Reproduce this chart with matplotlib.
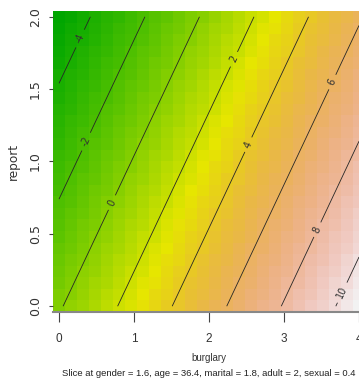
import numpy as np
import matplotlib.pyplot as plt
from matplotlib.colors import ListedColormap, hsv_to_rgb

# grid of the visreg2d slice (26 x 26 cells)
burglary = np.linspace(0, 4, 26)
report = np.linspace(0, 2, 26)

# fitted linear surface
intercept = -0.15
coef_burglary = 2.75
coef_report = -2.5

levels = [-4, -2, 0, 2, 4, 6, 8, 10]
# where R put the contour labels (data coords)
label_pos = [(0.28, 1.85), (0.35, 1.14), (0.69, 0.72), (2.32, 1.71),
             (2.51, 1.12), (3.64, 1.55), (3.44, 0.53), (3.75, 0.10)]

subtitle = 'Slice at gender = 1.6, age = 36.4, marital = 1.8, adult = 2, sexual = 0.4'


def terrain_colors(n):
    # same as R's terrain.colors()
    k = n // 2
    h = np.r_[np.linspace(4/12, 2/12, k), np.linspace(2/12, 0, n - k + 1)[1:]]
    s = np.r_[np.linspace(1, 1, k), np.linspace(1, 0, n - k + 1)[1:]]
    v = np.r_[np.linspace(0.65, 0.9, k), np.linspace(0.9, 0.95, n - k + 1)[1:]]
    return ListedColormap(hsv_to_rgb(np.column_stack([h, s, v])))


if __name__ == '__main__':
    plt.rcParams['contour.negative_linestyle'] = 'solid'

    X, Y = np.meshgrid(burglary, report)
    Z = intercept + coef_burglary * X + coef_report * Y

    W, H = 359, 385
    fig = plt.figure(figsize=(W / 100, H / 100), dpi=100)
    ax = fig.add_axes([53 / W, (H - 312) / H, 312 / W, 301 / H])

    ax.pcolormesh(burglary, report, Z, cmap=terrain_colors(100), shading='nearest',
                  vmin=Z.min(), vmax=Z.max())
    cs = ax.contour(X, Y, Z, levels=levels, colors='#262626', linewidths=0.6)
    lbls = ax.clabel(cs, inline=True, fmt='%d', fontsize=7, manual=label_pos)
    for t in lbls:
        t.set_color('#333333')

    ax.set_xlim(-0.08, 4.08)
    ax.set_ylim(-0.04, 2.04)

    sans = 'Liberation Sans'
    ax.set_xticks([0, 1, 2, 3, 4])
    ax.set_xticklabels(['0', '1', '2', '3', '4'], family=sans, fontsize=8.5)
    ax.set_yticks([0, 0.5, 1, 1.5, 2])
    ax.set_yticklabels(['0.0', '0.5', '1.0', '1.5', '2.0'], family='DejaVu Sans',
                       fontsize=9, rotation=90, va='center')
    ax.tick_params(axis='x', length=7, width=0.8, color='#444444', pad=8, labelcolor='#333333')
    ax.tick_params(axis='y', length=3, width=0.8, color='#444444', pad=5, labelcolor='#333333')

    for side in ['top', 'right', 'left']:
        ax.spines[side].set_visible(False)
    ax.spines['bottom'].set_color('#888888')
    ax.spines['bottom'].set_linewidth(1.5)

    ax.set_xlabel('burglary', family=sans, fontsize=7, color='#333333', va='center')
    ax.xaxis.set_label_coords((209 - 53) / 312, (312 - 358) / 301)
    ax.set_ylabel('report', family='DejaVu Sans', fontsize=8.7, color='#333333', va='center')
    ax.yaxis.set_label_coords((13 - 53) / 312, 0.5)

    fig.text(209 / W, 1 - 374 / H, subtitle, family=sans, fontsize=6.8,
             color='#222222', ha='center', va='center')

    plt.savefig('out.png', dpi=100)
